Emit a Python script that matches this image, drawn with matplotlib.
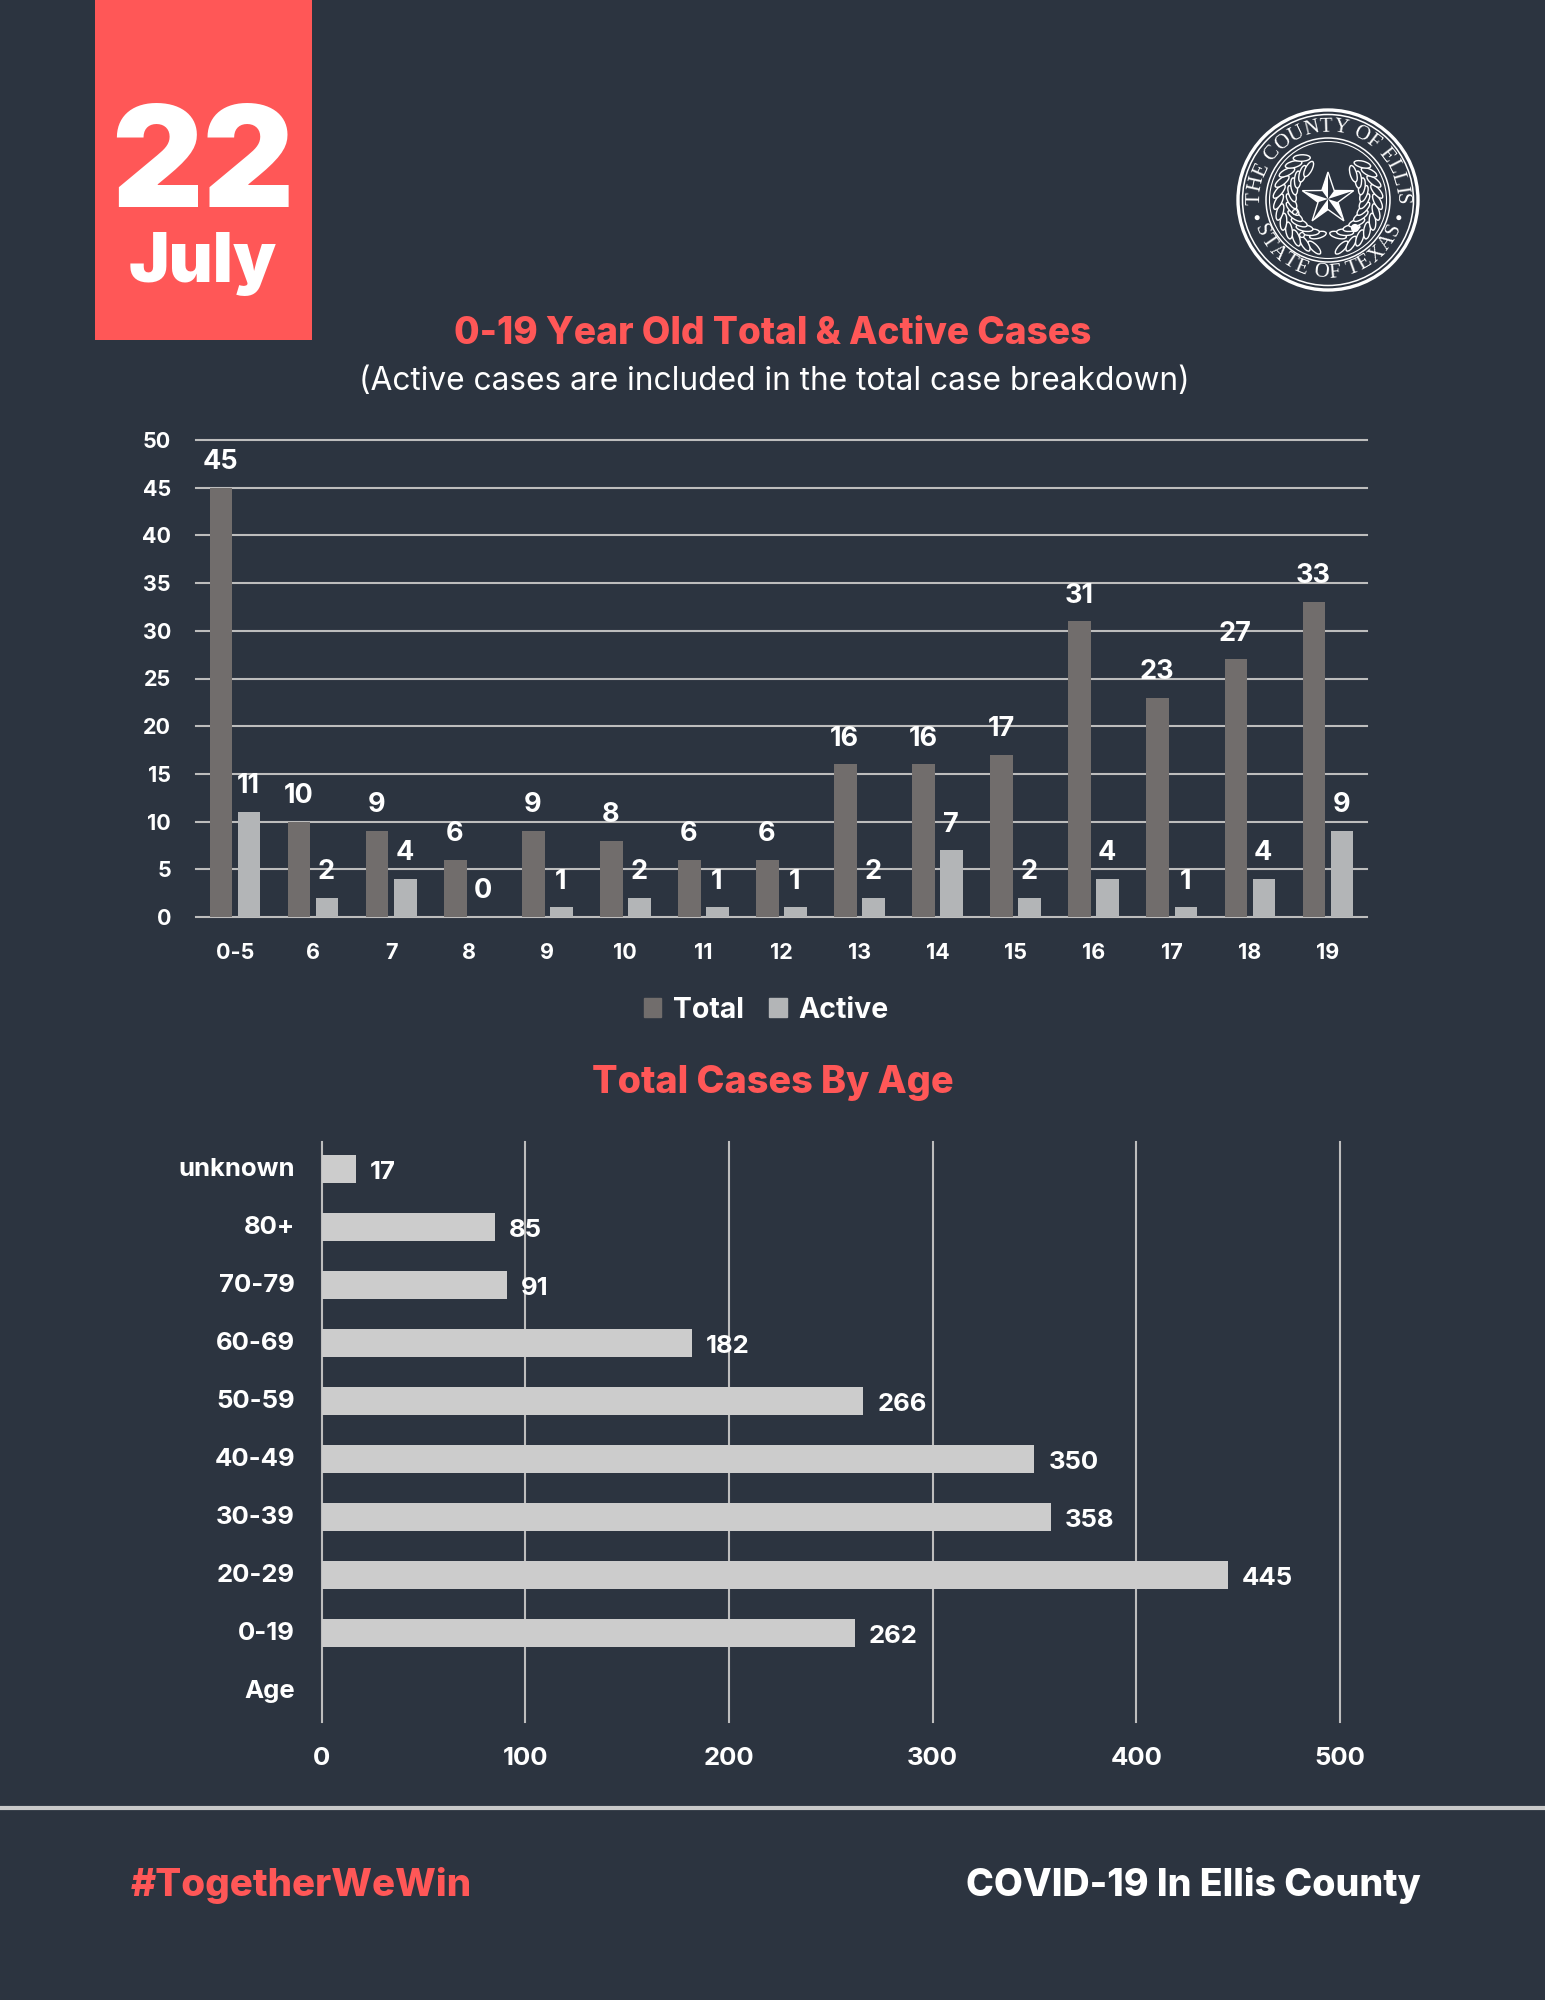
import numpy as np
import matplotlib
matplotlib.use('Agg')
import matplotlib.pyplot as plt
from matplotlib.patches import Circle, Ellipse, Polygon, Rectangle, Patch
from matplotlib.font_manager import FontProperties
from matplotlib.textpath import TextPath
from matplotlib.transforms import ScaledTranslation

plt.rcParams['font.family'] = ['Inter', 'DejaVu Sans']

BG = '#2c3440'
RED = '#ff5757'
WHITE = '#ffffff'
GRID = '#bdbdbd'

# top chart
young_ages = ['0-5', '6', '7', '8', '9', '10', '11', '12', '13', '14', '15', '16', '17', '18', '19']
total_cases = [45, 10, 9, 6, 9, 8, 6, 6, 16, 16, 17, 31, 23, 27, 33]
active_cases = [11, 2, 4, 0, 1, 2, 1, 1, 2, 7, 2, 4, 1, 4, 9]
young_ticks = [0, 5, 10, 15, 20, 25, 30, 35, 40, 45, 50]

# bottom chart
age_groups = ['unknown', '80+', '70-79', '60-69', '50-59', '40-49', '30-39', '20-29', '0-19', 'Age']
age_cases = [17, 85, 91, 182, 266, 350, 358, 445, 262, np.nan]
age_ticks = [0, 100, 200, 300, 400, 500]

W, H = 1545, 2000


def axes_px(fig, left, right, top, bottom):
    return fig.add_axes([left / W, 1 - bottom / H, (right - left) / W, (bottom - top) / H])


def text_along_circle(ax, text, cx, cy, r, mid_angle, size, top=True):
    # place letters one by one, spaced by their own width
    fp = FontProperties(family='Liberation Serif', size=size)
    base = TextPath((0, 0), 'HH', prop=fp).get_extents().width
    widths = [TextPath((0, 0), 'H' + c + 'H', prop=fp).get_extents().width - base for c in text]
    widths = [w * 100 / 72 * 1.06 for w in widths]
    pos = -sum(widths) / 2
    for c, w in zip(text, widths):
        step = np.degrees((pos + w / 2) / r)
        a = mid_angle - step if top else mid_angle + step
        x = cx + r * np.cos(np.radians(a))
        y = cy - r * np.sin(np.radians(a))
        rot = a - 90 if top else a + 90
        ax.text(x, y, c, fontproperties=fp, color=WHITE, rotation=rot,
                rotation_mode='anchor', ha='center', va='center')
        pos += w


def draw_seal(ax, cx, cy):
    for r, lw in [(90, 2.4), (85.5, 1.1), (62, 1.1), (58.5, 0.8)]:
        ax.add_patch(Circle((cx, cy), r, fill=False, ec=WHITE, lw=lw))
    text_along_circle(ax, 'THE COUNTY OF ELLIS', cx, cy, 73, 90, 15, top=True)
    text_along_circle(ax, 'STATE OF TEXAS', cx, cy, 73, 270, 15, top=False)
    for a in (194, -14):
        ax.add_patch(Circle((cx + 73 * np.cos(np.radians(a)), cy - 73 * np.sin(np.radians(a))),
                            1.8, color=WHITE))
    # wreath
    for side, angles in [(-1, np.arange(-74, 62, 12)), (1, np.arange(-74, 56, 12))]:
        for a in angles:
            rad = np.radians(a)
            x = cx + side * 43 * np.cos(rad)
            y = cy - 43 * np.sin(rad)
            tang = a + 90
            for off, twist in [(-6.5, -30), (6.5, 30)]:
                px = x + side * off * np.cos(rad)
                py = y - off * np.sin(rad)
                ax.add_patch(Ellipse((px, py), 17, 6.5, angle=-side * (tang + twist),
                                     fc=BG, ec=WHITE, lw=1.0))
    ax.add_patch(Circle((cx + 27, cy + 28), 3.4, color=WHITE))
    ax.add_patch(Circle((cx - 33, cy + 12), 2.4, fc=BG, ec=WHITE, lw=0.9))
    ax.add_patch(Circle((cx - 26, cy + 35), 2.4, fc=BG, ec=WHITE, lw=0.9))
    # star, faceted
    outer, inner = 27, 10.5
    sx, sy = cx, cy - 1
    pts = []
    for i in range(10):
        a = np.radians(90 + i * 36)
        r = outer if i % 2 == 0 else inner
        pts.append((sx + r * np.cos(a), sy - r * np.sin(a)))
    ax.add_patch(Polygon(pts, fc=BG, ec=WHITE, lw=1.0, zorder=4))
    for i in range(0, 10, 2):
        ax.add_patch(Polygon([(sx, sy), pts[i], pts[(i + 1) % 10]], fc=WHITE, ec='none', zorder=5))


fig = plt.figure(figsize=(W / 100, H / 100), dpi=100, facecolor=BG)

# background layer in pixel coordinates
deco = fig.add_axes([0, 0, 1, 1])
deco.set_xlim(0, W)
deco.set_ylim(H, 0)
deco.axis('off')
deco.add_patch(Rectangle((95, 0), 217, 340, fc=RED, ec='none'))
deco.text(203, 170, '22', color=WHITE, fontsize=102, fontweight='black', ha='center', va='center')
deco.text(203, 264, 'July', color=WHITE, fontsize=49, fontweight='black', ha='center', va='center')
draw_seal(deco, 1328, 200)
deco.text(773, 334, '0-19 Year Old Total & Active Cases', color=RED, fontsize=26.7,
          fontweight='heavy', ha='center', va='center')
deco.text(774, 382, '(Active cases are included in the total case breakdown)', color=WHITE,
          fontsize=22.8, ha='center', va='center')
deco.text(773, 1083, 'Total Cases By Age', color=RED, fontsize=27.2, fontweight='heavy',
          ha='center', va='center')
deco.plot([0, W], [1808, 1808], color='#c9c9c9', lw=3)
deco.text(131, 1885, '#TogetherWeWin', color=RED, fontsize=27.7, fontweight='heavy', ha='left', va='center')
deco.text(1421, 1885, 'COVID-19 In Ellis County', color=WHITE, fontsize=27, fontweight='heavy',
          ha='right', va='center')

# top chart
ax = axes_px(fig, 196, 1367, 440, 917)
ax.patch.set_alpha(0)
x = np.arange(len(young_ages))
offset, bar_w = 0.18, 0.29
ax.bar(x - offset, total_cases, bar_w, color='#716d6c', zorder=3)
ax.bar(x + offset, active_cases, bar_w, color='#b3b5b7', zorder=3)
for i, (t, a) in enumerate(zip(total_cases, active_cases)):
    ax.annotate(str(t), (i - offset, t), xytext=(-0.5, 18.5), textcoords='offset points', ha='center',
                va='center', color=WHITE, fontsize=19.5, fontweight='bold', zorder=5)
    ax.annotate(str(a), (i + offset, a), xytext=(-0.5, 18.5), textcoords='offset points', ha='center',
                va='center', color=WHITE, fontsize=19.5, fontweight='bold', zorder=5)
ax.set_xlim(-0.5, 14.5)
ax.set_ylim(0, 50)
ax.set_xticks(x, young_ages)
ax.set_yticks(young_ticks)
ax.grid(axis='y', color=GRID, lw=1.5, zorder=1)
for line in ax.get_ygridlines():
    line.set_clip_on(False)
for s in ax.spines.values():
    s.set_visible(False)
ax.tick_params(axis='both', length=0, labelcolor=WHITE, labelsize=15.5)
ax.tick_params(axis='x', pad=19)
ax.tick_params(axis='y', pad=18)
for lab in ax.get_xticklabels() + ax.get_yticklabels():
    lab.set_fontweight('bold')
handles = [Patch(color='#716d6c', label='Total'), Patch(color='#b3b5b7', label='Active')]
fig.legend(handles=handles, loc='center', bbox_to_anchor=(766 / W, 1 - 1010 / H), ncol=2, frameon=False,
           handlelength=0.62, handleheight=0.62, handletextpad=0.4, columnspacing=0.9,
           prop={'weight': 'bold', 'size': 20.5}, labelcolor=WHITE)

# bottom chart
ax2 = axes_px(fig, 321.5, 1340, 1142, 1722)
ax2.patch.set_alpha(0)
y = np.arange(len(age_groups))
ax2.barh(y, age_cases, 0.48, color='#cccccc', zorder=3)
for i, v in enumerate(age_cases):
    if not np.isnan(v):
        ax2.annotate(str(v), (v, i), xytext=(10, -2.5), textcoords='offset points', ha='left',
                     va='center', color=WHITE, fontsize=18.5, fontweight='bold', zorder=5)
ax2.set_xlim(0, 500)
ax2.set_ylim(9.53, -0.47)
ax2.set_yticks(y, age_groups)
ax2.set_xticks(age_ticks)
ax2.grid(axis='x', color=GRID, lw=1.5, zorder=1)
for line in ax2.get_xgridlines():
    line.set_clip_on(False)
for s in ax2.spines.values():
    s.set_visible(False)
ax2.tick_params(axis='both', length=0, labelcolor=WHITE, labelsize=18.5)
ax2.tick_params(axis='x', pad=18)
ax2.tick_params(axis='y', pad=19)
for lab in ax2.get_xticklabels() + ax2.get_yticklabels():
    lab.set_fontweight('bold')
# category labels sit a little above the bars
lift = ScaledTranslation(0, 1.5 / 72, fig.dpi_scale_trans)
for lab in ax2.get_yticklabels():
    lab.set_transform(lab.get_transform() + lift)

fig.savefig('out.png', dpi=100, facecolor=BG)
